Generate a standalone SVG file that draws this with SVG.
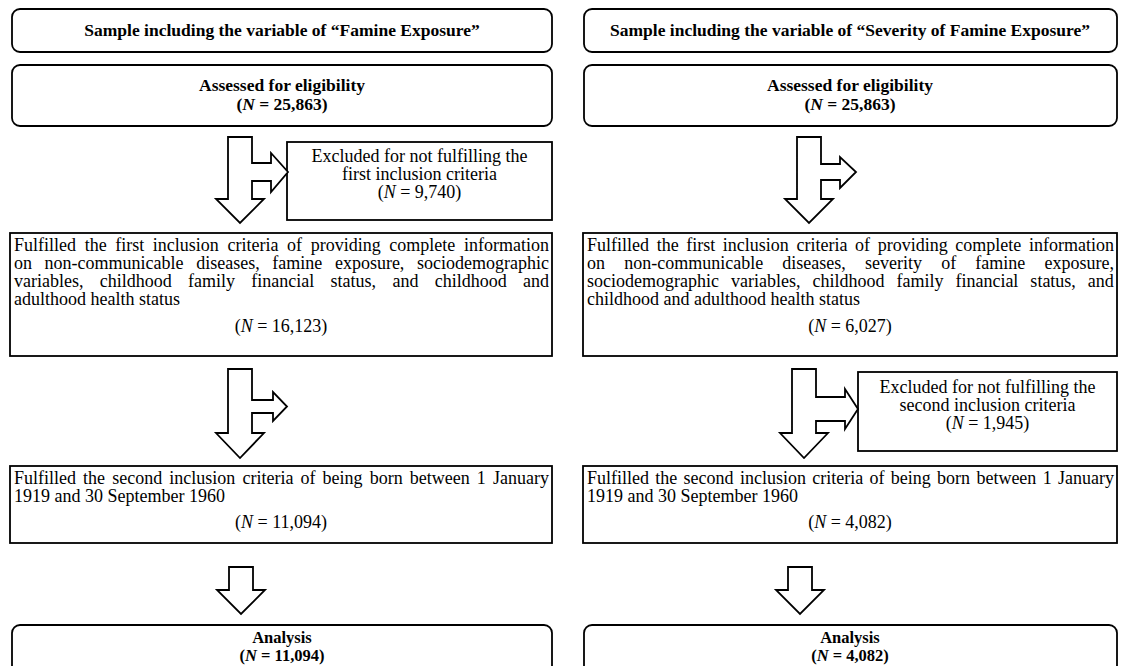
<svg xmlns="http://www.w3.org/2000/svg" width="1126" height="666" viewBox="0 0 1126 666">
<style>
.box{fill:#fff;stroke:#000;stroke-width:1.8}
.arr{fill:#fff;stroke:#000;stroke-width:1.8;stroke-linejoin:miter}
text{font-family:"Liberation Serif","Times New Roman",serif;fill:#000}
.b{font-weight:bold;font-size:17.5px;text-anchor:middle}
.a{font-size:16.5px}
.r{font-size:18px}
.c{text-anchor:middle}
.i{font-style:italic}
</style>
<rect width="1126" height="666" fill="#fff"/>

<g id="title-left">
<rect class="box" x="12" y="9" width="540" height="43" rx="8"/>
<text class="b" x="282" y="36">Sample including the variable of “Famine Exposure”</text>
</g>
<g id="title-right">
<rect class="box" x="584" y="9" width="533" height="43" rx="8"/>
<text class="b" x="850" y="36">Sample including the variable of “Severity of Famine Exposure”</text>
</g>

<g id="assessed-left">
<rect class="box" x="12" y="65" width="540" height="61" rx="8"/>
<text class="b" x="282" y="91">Assessed for eligibility</text>
<text class="b" x="282" y="110">(<tspan class="i">N</tspan> = 25,863)</text>
</g>
<g id="assessed-right">
<rect class="box" x="584" y="65" width="533" height="61" rx="8"/>
<text class="b" x="850" y="91">Assessed for eligibility</text>
<text class="b" x="850" y="110">(<tspan class="i">N</tspan> = 25,863)</text>
</g>

<g id="excluded-first-left">
<rect class="box" x="287" y="142" width="265" height="78"/>
<text class="r c" x="419.5" y="162">Excluded for not fulfilling the</text>
<text class="r c" x="419.5" y="180">first inclusion criteria</text>
<text class="r c" x="419.5" y="198">(<tspan class="i">N</tspan> = 9,740)</text>
</g>

<g id="fulfilled-first-left">
<rect class="box" x="10" y="233" width="542" height="123"/>
<text class="r" x="14" y="251" word-spacing="4.13">Fulfilled the first inclusion criteria of providing complete information</text>
<text class="r" x="14" y="269" word-spacing="8.12">on non-communicable diseases, famine exposure, sociodemographic</text>
<text class="r" x="14" y="287" word-spacing="11.8">variables, childhood family financial status, and childhood and</text>
<text class="r" x="14" y="305">adulthood health status</text>
<text class="r c" x="281" y="332">(<tspan class="i">N</tspan> = 16,123)</text>
</g>
<g id="fulfilled-first-right">
<rect class="box" x="583" y="233" width="534" height="123"/>
<text class="r" x="587" y="251" word-spacing="3.13">Fulfilled the first inclusion criteria of providing complete information</text>
<text class="r" x="587" y="269" word-spacing="14.68">on non-communicable diseases, severity of famine exposure,</text>
<text class="r" x="587" y="287" word-spacing="7.5">sociodemographic variables, childhood family financial status, and</text>
<text class="r" x="587" y="305">childhood and adulthood health status</text>
<text class="r c" x="850" y="332">(<tspan class="i">N</tspan> = 6,027)</text>
</g>

<g id="excluded-second-right">
<rect class="box" x="858" y="372" width="259" height="79"/>
<text class="r c" x="987.5" y="393">Excluded for not fulfilling the</text>
<text class="r c" x="987.5" y="411">second inclusion criteria</text>
<text class="r c" x="987.5" y="429">(<tspan class="i">N</tspan> = 1,945)</text>
</g>

<g id="fulfilled-second-left">
<rect class="box" x="10" y="466" width="542" height="77"/>
<text class="r" x="14" y="484" word-spacing="2.61">Fulfilled the second inclusion criteria of being born between 1 January</text>
<text class="r" x="14" y="502">1919 and 30 September 1960</text>
<text class="r c" x="281" y="528">(<tspan class="i">N</tspan> = 11,094)</text>
</g>
<g id="fulfilled-second-right">
<rect class="box" x="583" y="466" width="534" height="77"/>
<text class="r" x="587" y="484" word-spacing="1.81">Fulfilled the second inclusion criteria of being born between 1 January</text>
<text class="r" x="587" y="502">1919 and 30 September 1960</text>
<text class="r c" x="850" y="528">(<tspan class="i">N</tspan> = 4,082)</text>
</g>

<g id="analysis-left">
<rect class="box" x="12" y="625" width="540" height="60" rx="8"/>
<text class="b a" x="282" y="643">Analysis</text>
<text class="b a" x="282" y="661">(<tspan class="i">N</tspan> = 11,094)</text>
</g>
<g id="analysis-right">
<rect class="box" x="584" y="625" width="533" height="60" rx="8"/>
<text class="b a" x="850" y="643">Analysis</text>
<text class="b a" x="850" y="661">(<tspan class="i">N</tspan> = 4,082)</text>
</g>

<g id="connectors">
<path class="arr" d="M228,137 L252,137 L252,163 L271,163 L271,153 L288,172 L271,192 L271,181 L252,181 L252,199 L264,199 L240,223 L216,199 L228,199 Z"/>
<path class="arr" d="M797,137 L821,137 L821,164 L840,164 L840,157 L856,172 L840,188 L840,180 L821,180 L821,199 L833,199 L809,223 L785,199 L797,199 Z"/>
<path class="arr" d="M228,369 L252,369 L252,400 L273,400 L273,392 L287,406.5 L273,421 L273,413 L252,413 L252,433 L264,433 L240,458 L216,433 L228,433 Z"/>
<path class="arr" d="M792,369 L816,369 L816,397 L845,397 L845,389 L858,409 L845,429 L845,421 L816,421 L816,433 L828,433 L804,458 L780,433 L792,433 Z"/>
<path class="arr" d="M229,567 L253,567 L253,590 L265,590 L241,614 L217,590 L229,590 Z"/>
<path class="arr" d="M788,567 L812,567 L812,590 L824,590 L800,614 L776,590 L788,590 Z"/>
</g>
</svg>
